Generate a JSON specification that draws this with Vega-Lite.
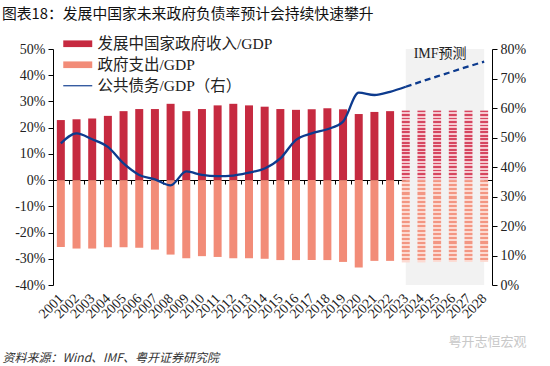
{
  "$schema": "https://vega.github.io/schema/vega-lite/v6.json",
  "autosize": "none",
  "width": 439,
  "height": 236,
  "padding": {"left": 53, "top": 49, "right": 58, "bottom": 81},
  "background": "white",
  "title": {
    "text": "图表18：发展中国家未来政府负债率预计会持续快速攀升",
    "anchor": "start",
    "frame": "group",
    "dx": -51,
    "offset": 14,
    "font": "Noto Sans CJK SC",
    "fontSize": 14.8,
    "fontWeight": "normal",
    "color": "#111111"
  },
  "config": {
    "view": {"stroke": null},
    "axis": {
      "labelFont": "Liberation Serif",
      "labelColor": "#222222",
      "domainColor": "#000000",
      "tickColor": "#000000",
      "grid": false
    }
  },
  "data": {
    "values": [
      {"year": "2001", "rev": 22.9, "exp": -25.5, "debt": 48.0, "fc": false},
      {"year": "2002", "rev": 23.2, "exp": -26.1, "debt": 51.4, "fc": false},
      {"year": "2003", "rev": 23.5, "exp": -26.1, "debt": 49.4, "fc": false},
      {"year": "2004", "rev": 24.5, "exp": -25.6, "debt": 46.8, "fc": false},
      {"year": "2005", "rev": 26.3, "exp": -25.6, "debt": 41.2, "fc": false},
      {"year": "2006", "rev": 27.1, "exp": -25.8, "debt": 37.3, "fc": false},
      {"year": "2007", "rev": 27.1, "exp": -26.5, "debt": 35.8, "fc": false},
      {"year": "2008", "rev": 29.1, "exp": -28.4, "debt": 33.8, "fc": false},
      {"year": "2009", "rev": 26.3, "exp": -29.8, "debt": 38.5, "fc": false},
      {"year": "2010", "rev": 27.1, "exp": -29.0, "debt": 37.3, "fc": false},
      {"year": "2011", "rev": 28.5, "exp": -29.3, "debt": 36.9, "fc": false},
      {"year": "2012", "rev": 29.1, "exp": -29.8, "debt": 37.1, "fc": false},
      {"year": "2013", "rev": 28.5, "exp": -29.8, "debt": 38.1, "fc": false},
      {"year": "2014", "rev": 28.0, "exp": -30.0, "debt": 39.5, "fc": false},
      {"year": "2015", "rev": 27.1, "exp": -30.5, "debt": 42.9, "fc": false},
      {"year": "2016", "rev": 26.8, "exp": -30.5, "debt": 49.2, "fc": false},
      {"year": "2017", "rev": 27.0, "exp": -30.5, "debt": 51.4, "fc": false},
      {"year": "2018", "rev": 27.4, "exp": -30.5, "debt": 52.8, "fc": false},
      {"year": "2019", "rev": 27.0, "exp": -31.2, "debt": 55.4, "fc": false},
      {"year": "2020", "rev": 25.2, "exp": -33.3, "debt": 65.2, "fc": false},
      {"year": "2021", "rev": 26.0, "exp": -30.8, "debt": 64.4, "fc": false},
      {"year": "2022", "rev": 26.3, "exp": -30.8, "debt": 65.5, "fc": false},
      {"year": "2023", "rev": 26.5, "exp": -31.4, "debt": 67.2, "debtF": 67.2, "fc": true},
      {"year": "2024", "rev": 26.5, "exp": -31.4, "debtF": 69.0, "fc": true},
      {"year": "2025", "rev": 26.5, "exp": -31.2, "debtF": 70.7, "fc": true},
      {"year": "2026", "rev": 26.5, "exp": -31.2, "debtF": 72.4, "fc": true},
      {"year": "2027", "rev": 26.5, "exp": -31.2, "debtF": 74.1, "fc": true},
      {"year": "2028", "rev": 26.5, "exp": -31.2, "debtF": 75.7, "fc": true}
    ]
  },
  "layer": [
    {
      "layer": [
        {
          "transform": [{"filter": "!datum.fc"}],
          "mark": {"type": "bar", "width": 8},
          "encoding": {
            "x": {
              "field": "year", "type": "ordinal", "title": "资料来源：Wind、IMF、粤开证券研究院",
              "scale": {"paddingInner": 0, "paddingOuter": 0},
              "axis": {
                "orient": "bottom", "offset": -105, "labelAngle": -45, "labelAlign": "right",
                "labelBaseline": "middle", "labelPadding": 112, "labelFontSize": 14,
                "labelOverlap": false, "tickBand": "extent", "tickSize": 4,
                "titleX": -51, "titleY": 177, "titleAlign": "left", "titleBaseline": "middle",
                "titleFont": "Noto Sans CJK SC", "titleFontSize": 12, "titleFontWeight": "normal",
                "titleFontStyle": "italic", "titleColor": "#333333"
              }
            },
            "y": {
              "field": "rev", "type": "quantitative", "title": null,
              "scale": {"domain": [-40, 50], "nice": false, "zero": false},
              "axis": {
                "orient": "left", "tickCount": 9, "labelOverlap": false,
                "labelExpr": "datum.value + '%'", "labelFontSize": 14, "tickSize": 5, "labelPadding": 3
              }
            },
            "color": {
              "datum": "发展中国家政府收入/GDP",
              "scale": {
                "domain": ["发展中国家政府收入/GDP", "政府支出/GDP", "公共债务/GDP（右）"],
                "range": ["#c62a40", "#f28c78", "#0d3b8e"]
              },
              "legend": {
                "title": null, "orient": "none", "legendX": 17, "legendY": -13, "padding": 0,
                "labelFont": "Liberation Serif, Noto Sans CJK SC", "labelFontSize": 15.5, "labelColor": "#222222",
                "labelOffset": 12, "rowPadding": 4, "labelLimit": 400,
                "symbolType": "M-2,-0.46H2V0.46H-2Z", "symbolSize": 210, "symbolStrokeWidth": 0,
                "encode": {
                  "symbols": {
                    "update": {
                      "shape": {"signal": "datum.value === '公共债务/GDP（右）' ? 'M-2,-0.08H2V0.08H-2Z' : 'M-2,-0.46H2V0.46H-2Z'"},
                      "fill": {"scale": "color", "field": "value"},
                      "strokeWidth": {"value": 0}
                    }
                  }
                }
              }
            }
          }
        },
        {
          "data": {"values": [{"s": "2023", "e": "2028"}]},
          "mark": {"type": "rect", "color": "#f2f2f2"},
          "encoding": {
            "x": {"field": "s", "type": "ordinal", "bandPosition": 0.5},
            "x2": {"field": "e"}
          }
        },
        {
          "transform": [{"filter": "!datum.fc"}],
          "mark": {"type": "bar", "width": 8},
          "encoding": {
            "x": {"field": "year", "type": "ordinal"},
            "y": {"field": "exp", "type": "quantitative"},
            "color": {"datum": "政府支出/GDP"}
          }
        },
        {
          "transform": [{"filter": "datum.fc"}],
          "mark": {
            "type": "bar", "width": 8,
            "fill": {
              "gradient": "linear", "x1": 0, "y1": 0, "x2": 0, "y2": 1,
              "stops": [
                {"offset": 0, "color": "#d64660"}, {"offset": 0.025, "color": "#d64660"}, {"offset": 0.025, "color": "#f6c9d0"}, {"offset": 0.05, "color": "#f6c9d0"},
                {"offset": 0.05, "color": "#d64660"}, {"offset": 0.075, "color": "#d64660"}, {"offset": 0.075, "color": "#f6c9d0"}, {"offset": 0.1, "color": "#f6c9d0"},
                {"offset": 0.1, "color": "#d64660"}, {"offset": 0.125, "color": "#d64660"}, {"offset": 0.125, "color": "#f6c9d0"}, {"offset": 0.15, "color": "#f6c9d0"},
                {"offset": 0.15, "color": "#d64660"}, {"offset": 0.175, "color": "#d64660"}, {"offset": 0.175, "color": "#f6c9d0"}, {"offset": 0.2, "color": "#f6c9d0"},
                {"offset": 0.2, "color": "#d64660"}, {"offset": 0.225, "color": "#d64660"}, {"offset": 0.225, "color": "#f6c9d0"}, {"offset": 0.25, "color": "#f6c9d0"},
                {"offset": 0.25, "color": "#d64660"}, {"offset": 0.275, "color": "#d64660"}, {"offset": 0.275, "color": "#f6c9d0"}, {"offset": 0.3, "color": "#f6c9d0"},
                {"offset": 0.3, "color": "#d64660"}, {"offset": 0.325, "color": "#d64660"}, {"offset": 0.325, "color": "#f6c9d0"}, {"offset": 0.35, "color": "#f6c9d0"},
                {"offset": 0.35, "color": "#d64660"}, {"offset": 0.375, "color": "#d64660"}, {"offset": 0.375, "color": "#f6c9d0"}, {"offset": 0.4, "color": "#f6c9d0"},
                {"offset": 0.4, "color": "#d64660"}, {"offset": 0.425, "color": "#d64660"}, {"offset": 0.425, "color": "#f6c9d0"}, {"offset": 0.45, "color": "#f6c9d0"},
                {"offset": 0.45, "color": "#d64660"}, {"offset": 0.475, "color": "#d64660"}, {"offset": 0.475, "color": "#f6c9d0"}, {"offset": 0.5, "color": "#f6c9d0"},
                {"offset": 0.5, "color": "#d64660"}, {"offset": 0.525, "color": "#d64660"}, {"offset": 0.525, "color": "#f6c9d0"}, {"offset": 0.55, "color": "#f6c9d0"},
                {"offset": 0.55, "color": "#d64660"}, {"offset": 0.575, "color": "#d64660"}, {"offset": 0.575, "color": "#f6c9d0"}, {"offset": 0.6, "color": "#f6c9d0"},
                {"offset": 0.6, "color": "#d64660"}, {"offset": 0.625, "color": "#d64660"}, {"offset": 0.625, "color": "#f6c9d0"}, {"offset": 0.65, "color": "#f6c9d0"},
                {"offset": 0.65, "color": "#d64660"}, {"offset": 0.675, "color": "#d64660"}, {"offset": 0.675, "color": "#f6c9d0"}, {"offset": 0.7, "color": "#f6c9d0"},
                {"offset": 0.7, "color": "#d64660"}, {"offset": 0.725, "color": "#d64660"}, {"offset": 0.725, "color": "#f6c9d0"}, {"offset": 0.75, "color": "#f6c9d0"},
                {"offset": 0.75, "color": "#d64660"}, {"offset": 0.775, "color": "#d64660"}, {"offset": 0.775, "color": "#f6c9d0"}, {"offset": 0.8, "color": "#f6c9d0"},
                {"offset": 0.8, "color": "#d64660"}, {"offset": 0.825, "color": "#d64660"}, {"offset": 0.825, "color": "#f6c9d0"}, {"offset": 0.85, "color": "#f6c9d0"},
                {"offset": 0.85, "color": "#d64660"}, {"offset": 0.875, "color": "#d64660"}, {"offset": 0.875, "color": "#f6c9d0"}, {"offset": 0.9, "color": "#f6c9d0"},
                {"offset": 0.9, "color": "#d64660"}, {"offset": 0.925, "color": "#d64660"}, {"offset": 0.925, "color": "#f6c9d0"}, {"offset": 0.95, "color": "#f6c9d0"},
                {"offset": 0.95, "color": "#d64660"}, {"offset": 0.975, "color": "#d64660"}, {"offset": 0.975, "color": "#f6c9d0"}, {"offset": 1, "color": "#f6c9d0"}
              ]
            }
          },
          "encoding": {
            "x": {"field": "year", "type": "ordinal"},
            "y": {"field": "rev", "type": "quantitative"}
          }
        },
        {
          "transform": [{"filter": "datum.fc"}],
          "mark": {
            "type": "bar", "width": 8,
            "fill": {
              "gradient": "linear", "x1": 0, "y1": 0, "x2": 0, "y2": 1,
              "stops": [
                {"offset": 0, "color": "#f39682"}, {"offset": 0.025, "color": "#f39682"}, {"offset": 0.025, "color": "#fcdad2"}, {"offset": 0.05, "color": "#fcdad2"},
                {"offset": 0.05, "color": "#f39682"}, {"offset": 0.075, "color": "#f39682"}, {"offset": 0.075, "color": "#fcdad2"}, {"offset": 0.1, "color": "#fcdad2"},
                {"offset": 0.1, "color": "#f39682"}, {"offset": 0.125, "color": "#f39682"}, {"offset": 0.125, "color": "#fcdad2"}, {"offset": 0.15, "color": "#fcdad2"},
                {"offset": 0.15, "color": "#f39682"}, {"offset": 0.175, "color": "#f39682"}, {"offset": 0.175, "color": "#fcdad2"}, {"offset": 0.2, "color": "#fcdad2"},
                {"offset": 0.2, "color": "#f39682"}, {"offset": 0.225, "color": "#f39682"}, {"offset": 0.225, "color": "#fcdad2"}, {"offset": 0.25, "color": "#fcdad2"},
                {"offset": 0.25, "color": "#f39682"}, {"offset": 0.275, "color": "#f39682"}, {"offset": 0.275, "color": "#fcdad2"}, {"offset": 0.3, "color": "#fcdad2"},
                {"offset": 0.3, "color": "#f39682"}, {"offset": 0.325, "color": "#f39682"}, {"offset": 0.325, "color": "#fcdad2"}, {"offset": 0.35, "color": "#fcdad2"},
                {"offset": 0.35, "color": "#f39682"}, {"offset": 0.375, "color": "#f39682"}, {"offset": 0.375, "color": "#fcdad2"}, {"offset": 0.4, "color": "#fcdad2"},
                {"offset": 0.4, "color": "#f39682"}, {"offset": 0.425, "color": "#f39682"}, {"offset": 0.425, "color": "#fcdad2"}, {"offset": 0.45, "color": "#fcdad2"},
                {"offset": 0.45, "color": "#f39682"}, {"offset": 0.475, "color": "#f39682"}, {"offset": 0.475, "color": "#fcdad2"}, {"offset": 0.5, "color": "#fcdad2"},
                {"offset": 0.5, "color": "#f39682"}, {"offset": 0.525, "color": "#f39682"}, {"offset": 0.525, "color": "#fcdad2"}, {"offset": 0.55, "color": "#fcdad2"},
                {"offset": 0.55, "color": "#f39682"}, {"offset": 0.575, "color": "#f39682"}, {"offset": 0.575, "color": "#fcdad2"}, {"offset": 0.6, "color": "#fcdad2"},
                {"offset": 0.6, "color": "#f39682"}, {"offset": 0.625, "color": "#f39682"}, {"offset": 0.625, "color": "#fcdad2"}, {"offset": 0.65, "color": "#fcdad2"},
                {"offset": 0.65, "color": "#f39682"}, {"offset": 0.675, "color": "#f39682"}, {"offset": 0.675, "color": "#fcdad2"}, {"offset": 0.7, "color": "#fcdad2"},
                {"offset": 0.7, "color": "#f39682"}, {"offset": 0.725, "color": "#f39682"}, {"offset": 0.725, "color": "#fcdad2"}, {"offset": 0.75, "color": "#fcdad2"},
                {"offset": 0.75, "color": "#f39682"}, {"offset": 0.775, "color": "#f39682"}, {"offset": 0.775, "color": "#fcdad2"}, {"offset": 0.8, "color": "#fcdad2"},
                {"offset": 0.8, "color": "#f39682"}, {"offset": 0.825, "color": "#f39682"}, {"offset": 0.825, "color": "#fcdad2"}, {"offset": 0.85, "color": "#fcdad2"},
                {"offset": 0.85, "color": "#f39682"}, {"offset": 0.875, "color": "#f39682"}, {"offset": 0.875, "color": "#fcdad2"}, {"offset": 0.9, "color": "#fcdad2"},
                {"offset": 0.9, "color": "#f39682"}, {"offset": 0.925, "color": "#f39682"}, {"offset": 0.925, "color": "#fcdad2"}, {"offset": 0.95, "color": "#fcdad2"},
                {"offset": 0.95, "color": "#f39682"}, {"offset": 0.975, "color": "#f39682"}, {"offset": 0.975, "color": "#fcdad2"}, {"offset": 1, "color": "#fcdad2"}
              ]
            }
          },
          "encoding": {
            "x": {"field": "year", "type": "ordinal"},
            "y": {"field": "exp", "type": "quantitative"}
          }
        },
        {
          "data": {"values": [{"t": "IMF预测"}]},
          "mark": {"type": "text", "font": "Liberation Serif, Noto Sans CJK SC", "fontSize": 14, "color": "#222222", "dx": 3, "baseline": "middle"},
          "encoding": {
            "x": {"datum": "2025", "type": "ordinal"},
            "y": {"datum": 48, "type": "quantitative"},
            "text": {"field": "t"}
          }
        }
      ]
    },
    {
      "layer": [
        {
          "transform": [{"filter": "isValid(datum.debt)"}],
          "mark": {"type": "line", "interpolate": "monotone", "strokeWidth": 2.3},
          "encoding": {
            "x": {"field": "year", "type": "ordinal"},
            "y": {
              "field": "debt", "type": "quantitative", "title": "粤开志恒宏观",
              "scale": {"domain": [0, 80], "nice": false},
              "axis": {
                "orient": "right", "tickCount": 8, "labelOverlap": false,
                "labelExpr": "datum.value + '%'", "labelFontSize": 14, "tickSize": 5, "labelPadding": 3,
                "titleAngle": 0, "titleX": -44, "titleY": 292,
                "titleAlign": "left", "titleBaseline": "middle", "titleFont": "Noto Sans CJK SC",
                "titleFontSize": 13, "titleFontWeight": "normal", "titleColor": "#c8c8c8"
              }
            },
            "color": {"datum": "公共债务/GDP（右）"}
          }
        },
        {
          "transform": [{"filter": "isValid(datum.debtF)"}],
          "mark": {"type": "line", "strokeWidth": 2.3, "strokeDash": [6, 4], "color": "#0d3b8e"},
          "encoding": {
            "x": {"field": "year", "type": "ordinal"},
            "y": {"field": "debtF", "type": "quantitative"}
          }
        }
      ]
    }
  ],
  "resolve": {"scale": {"y": "independent"}}
}
